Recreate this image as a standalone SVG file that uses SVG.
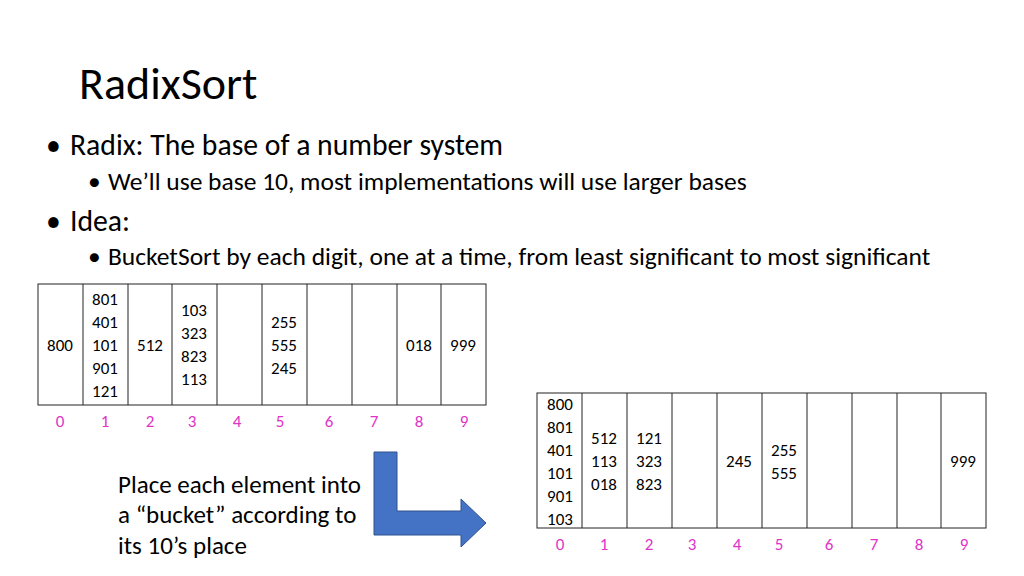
<svg xmlns="http://www.w3.org/2000/svg" width="1024" height="576" viewBox="0 0 1024 576">
<style>
text{font-family:Calibri,Carlito,"Liberation Sans",sans-serif;fill:#000}
.c{font-size:17px;text-anchor:middle}
.p{font-size:17px;text-anchor:middle;fill:#e033c8}
.g{fill:#fff;stroke:#222;stroke-width:1}
</style>
<rect width="1024" height="576" fill="#fff"/>
<text x="79" y="99" font-size="46" fill="#222">RadixSort</text>
<text x="46" y="155" font-size="29.7">•</text><text x="70" y="155" font-size="29.7">Radix: The base of a number system</text>
<text x="88" y="190" font-size="25.5">•</text><text x="108" y="190" font-size="25.5">We’ll use base 10, most implementations will use larger bases</text>
<text x="46" y="231" font-size="29.7">•</text><text x="70" y="231" font-size="29.7">Idea:</text>
<text x="88" y="265" font-size="25.5">•</text><text x="108" y="265" font-size="25.5">BucketSort by each digit, one at a time, from least significant to most significant</text>
<g id="top">
<rect class="g" x="38" y="284" width="448" height="121"/>
<path d="M83 284V405M128 284V405M172 284V405M217 284V405M262 284V405M307 284V405M352 284V405M397 284V405M441 284V405" stroke="#222" fill="none"/>
<text class="c" x="60" y="351">800</text>
<text class="c" x="105" y="305">801</text><text class="c" x="105" y="328">401</text><text class="c" x="105" y="351">101</text><text class="c" x="105" y="374">901</text><text class="c" x="105" y="397">121</text>
<text class="c" x="150" y="351">512</text>
<text class="c" x="194" y="316">103</text><text class="c" x="194" y="339">323</text><text class="c" x="194" y="362">823</text><text class="c" x="194" y="385">113</text>
<text class="c" x="284" y="328">255</text><text class="c" x="284" y="351">555</text><text class="c" x="284" y="374">245</text>
<text class="c" x="419" y="351">018</text><text class="c" x="463" y="351">999</text>
<text class="p" x="60" y="427">0</text><text class="p" x="105" y="427">1</text><text class="p" x="150" y="427">2</text><text class="p" x="192" y="427">3</text><text class="p" x="237" y="427">4</text><text class="p" x="280" y="427">5</text><text class="p" x="329" y="427">6</text><text class="p" x="374" y="427">7</text><text class="p" x="419" y="427">8</text><text class="p" x="464" y="427">9</text>
</g>
<g id="bottom">
<rect class="g" x="537" y="393" width="449" height="135"/>
<path d="M582 393V528M627 393V528M672 393V528M717 393V528M762 393V528M807 393V528M852 393V528M897 393V528M941 393V528" stroke="#222" fill="none"/>
<text class="c" x="560" y="410">800</text><text class="c" x="560" y="433">801</text><text class="c" x="560" y="456">401</text><text class="c" x="560" y="479">101</text><text class="c" x="560" y="502">901</text><text class="c" x="560" y="525">103</text>
<text class="c" x="604" y="444">512</text><text class="c" x="604" y="467">113</text><text class="c" x="604" y="490">018</text>
<text class="c" x="649" y="444">121</text><text class="c" x="649" y="467">323</text><text class="c" x="649" y="490">823</text>
<text class="c" x="739" y="467">245</text>
<text class="c" x="784" y="456">255</text><text class="c" x="784" y="479">555</text>
<text class="c" x="963" y="467">999</text>
<text class="p" x="560" y="550">0</text><text class="p" x="604" y="550">1</text><text class="p" x="649" y="550">2</text><text class="p" x="692" y="550">3</text><text class="p" x="737" y="550">4</text><text class="p" x="779" y="550">5</text><text class="p" x="829" y="550">6</text><text class="p" x="874" y="550">7</text><text class="p" x="919" y="550">8</text><text class="p" x="964" y="550">9</text>
</g>
<g id="arrow">
<path d="M374 452H397V511H461V499L486 523L461 547V535H374Z" fill="#4472c4" stroke="#2f528f" stroke-width="1"/>
</g>
<text x="118" y="493" font-size="25">Place each element into</text>
<text x="118" y="523" font-size="25">a “bucket” according to</text>
<text x="118" y="554" font-size="25">its 10’s place</text>
</svg>
